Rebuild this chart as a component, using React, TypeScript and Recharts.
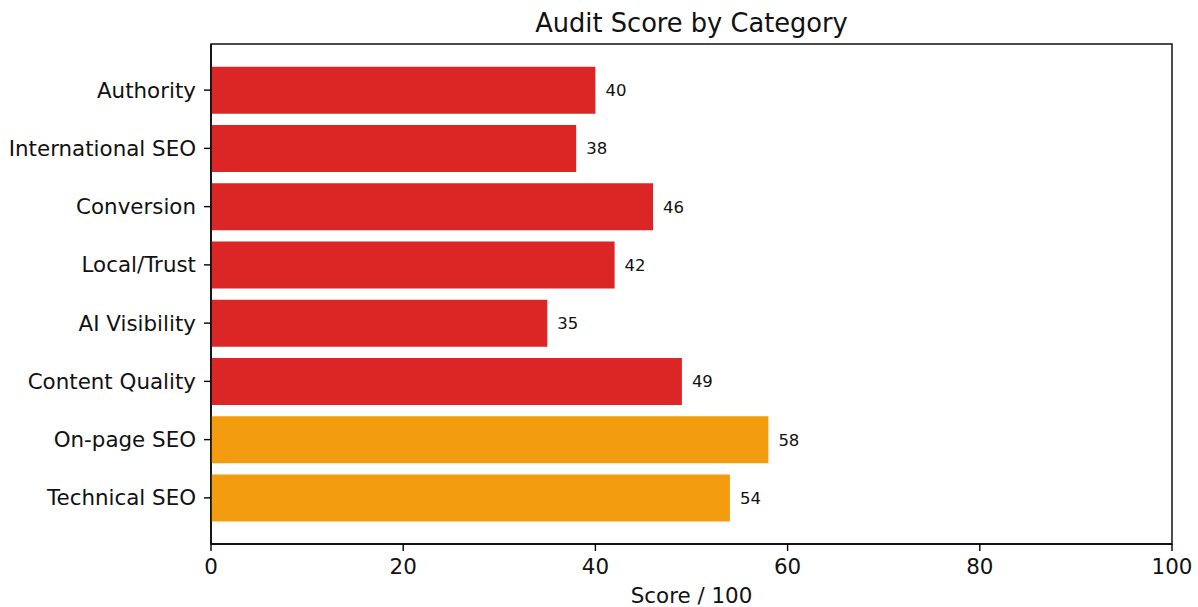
import React from "react";
import * as R from "recharts";
import {
  BarChart,
  Bar,
  XAxis,
  YAxis,
  Cell,
  LabelList,
  Label,
} from "recharts";

const categories = [
  "Authority",
  "International SEO",
  "Conversion",
  "Local/Trust",
  "AI Visibility",
  "Content Quality",
  "On-page SEO",
  "Technical SEO",
];
const scores = [40, 38, 46, 42, 35, 49, 58, 54];
const xTicks = [0, 20, 40, 60, 80, 100];

const RED = "#dc2626";
const ORANGE = "#f39c0f";
const FONT = "'DejaVu Sans', sans-serif";

const data = categories.map((name, i) => ({ name, score: scores[i] }));

// box round the plot area, like the matplotlib spines
function Frame() {
  const hook = (R as any).usePlotArea || (R as any).useOffset;
  const area = hook ? hook() : null;
  if (!area) return null;
  const x = area.x ?? area.left;
  const y = area.y ?? area.top;
  return (
    <rect
      x={x}
      y={y}
      width={area.width}
      height={area.height}
      fill="none"
      stroke="#000"
      strokeWidth={1.4}
    />
  );
}

export default function App() {
  return (
    <div
      style={{
        position: "absolute",
        left: 0,
        top: 0,
        width: 1198,
        height: 607,
        background: "#fff",
        fontFamily: FONT,
      }}
    >
      <div
        style={{
          position: "absolute",
          left: 211,
          width: 961,
          top: 10,
          lineHeight: "26px",
          textAlign: "center",
          fontSize: 25.7,
          color: "#111",
        }}
      >
        Audit Score by Category
      </div>
      <BarChart
        width={1198}
        height={607}
        data={data}
        layout="vertical"
        margin={{ top: 44, right: 26, bottom: 0, left: 0 }}
        barCategoryGap="10%"
      >
        <XAxis
          type="number"
          domain={[0, 100]}
          ticks={xTicks}
          height={63}
          stroke="#000"
          strokeWidth={1.4}
          tickSize={7}
          tickMargin={8}
          tick={{ fill: "#111", fontSize: 21.4, fontFamily: FONT }}
        >
          <Label
            value="Score / 100"
            position="insideBottom"
            offset={4}
            style={{ fill: "#111", fontSize: 21.4, fontFamily: FONT }}
          />
        </XAxis>
        <YAxis
          type="category"
          dataKey="name"
          width={211}
          padding={{ top: 17, bottom: 17 }}
          stroke="#000"
          strokeWidth={1.4}
          tickSize={7}
          tickMargin={8}
          tick={{ fill: "#111", fontSize: 21.4, fontFamily: FONT }}
          interval={0}
        />
        <Bar dataKey="score" isAnimationActive={false}>
          {data.map((d) => (
            <Cell key={d.name} fill={d.score >= 50 ? ORANGE : RED} />
          ))}
          <LabelList
            dataKey="score"
            position="right"
            offset={10}
            style={{ fill: "#111", fontSize: 16.5, fontFamily: FONT }}
          />
        </Bar>
        <Frame />
      </BarChart>
    </div>
  );
}
